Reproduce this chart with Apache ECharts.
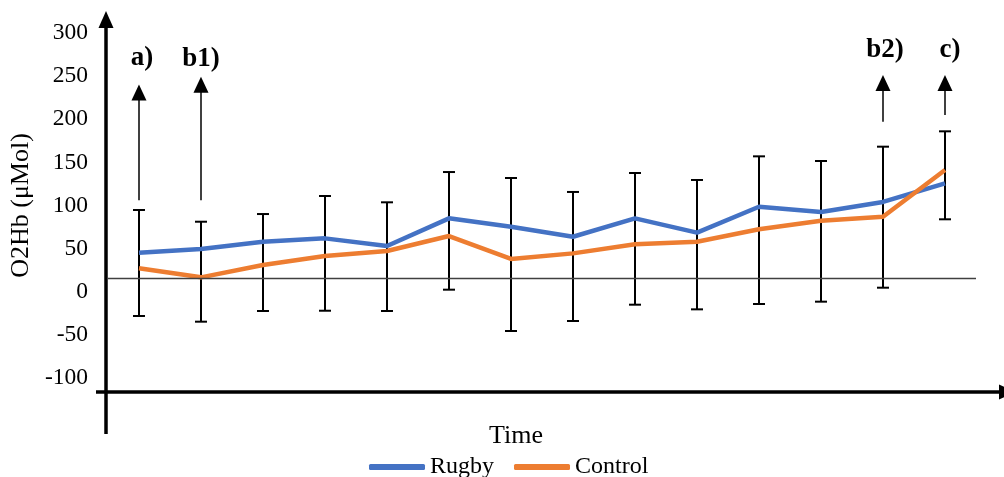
<!DOCTYPE html>
<html>
<head>
<meta charset="utf-8">
<script src="https://cdn.jsdelivr.net/npm/echarts@6/dist/echarts.min.js"></script>
<style>
  html, body { margin: 0; padding: 0; background: #fff; }
  #chart { width: 1004px; height: 477px; }
</style>
</head>
<body>
<div id="chart"></div>
<script>
// Time points along the horizontal axis (unlabelled)
const timePoints = ['1', '2', '3', '4', '5', '6', '7', '8', '9', '10', '11', '12', '13', '14'];

// Mean O2Hb per group (μMol)
const rugby   = [45.3, 49.6, 58.0, 61.9, 53.0, 85.1, 75.4, 63.8, 85.1, 68.5, 98.6, 92.5, 104.1, 125.7];
const control = [27.2, 16.7, 31.0, 41.4, 47.2, 64.6, 38.0, 44.5, 55.0, 58.0, 72.4, 82.4, 87.0, 141.2];

// Error bar extents at each time point
const errorHigh = [94.8, 81.2, 90.1, 111.0, 103.7, 138.8, 131.9, 115.7, 137.7, 129.6, 157.0, 151.6, 168.2, 186.0];
const errorLow  = [-28.1, -34.7, -22.3, -22.0, -22.3, 2.4, -45.5, -33.9, -15.0, -20.4, -14.2, -11.5, 4.7, 84.0];

// Value axis ticks
const yMin = -100;
const yMax = 300;
const yStep = 50;

// Reference line level
const baseline = 16;

// Phase markers: time index, arrow start and arrow end values
const markerLabels = ['a)', 'b1)', 'b2)', 'c)'];
const markerIndex  = [0, 1, 12, 13];
const markerFrom   = [106, 106, 197, 205];
const markerTo     = [231, 240, 242, 242];
const markerGap    = [21, 12, 19, 19];
const markerShift  = [6, 0, 4, 10];

const FONT = '"Liberation Serif", "Times New Roman", serif';

const chart = echarts.init(document.getElementById('chart'));

const errorData = timePoints.map((_, i) => [i, errorLow[i], errorHigh[i]]);

const markerLines = markerLabels.map((lab, k) => [
  {
    name: lab,
    coord: [markerIndex[k], markerFrom[k]],
    label: { distance: markerGap[k], padding: [0, 0, 0, markerShift[k]] }
  },
  { coord: [markerIndex[k], markerTo[k]] }
]);

chart.setOption({
  animation: false,
  backgroundColor: '#fff',
  grid: { left: 106, right: 28, top: 33, bottom: 99, containLabel: false },
  legend: {
    data: ['Rugby', 'Control'],
    left: 364,
    top: 450,
    icon: 'roundRect',
    itemWidth: 56,
    itemHeight: 6,
    itemGap: 20,
    textStyle: { fontFamily: FONT, fontSize: 24, color: '#000' }
  },
  xAxis: {
    type: 'category',
    data: timePoints,
    boundaryGap: true,
    axisLine: { show: false },
    axisTick: { show: false },
    axisLabel: { show: false },
    splitLine: { show: false }
  },
  yAxis: {
    type: 'value',
    min: yMin,
    max: yMax,
    interval: yStep,
    name: 'O2Hb (μMol)',
    nameLocation: 'middle',
    nameGap: 70,
    nameRotate: 90,
    nameTextStyle: { fontFamily: FONT, fontSize: 26, color: '#000' },
    axisLine: { show: false },
    axisTick: { show: false },
    splitLine: { show: false },
    axisLabel: { fontFamily: FONT, fontSize: 23.5, color: '#000', margin: 20 }
  },
  graphic: [
    // vertical axis with arrow head
    { type: 'line', shape: { x1: 106, y1: 434, x2: 106, y2: 26 }, style: { stroke: '#000', lineWidth: 3.5 }, z: 10 },
    { type: 'polygon', shape: { points: [[106, 11], [98.5, 28], [113.5, 28]] }, style: { fill: '#000' }, z: 10 },
    // horizontal axis with arrow head
    { type: 'line', shape: { x1: 96, y1: 392, x2: 1000, y2: 392 }, style: { stroke: '#000', lineWidth: 3.5 }, z: 10 },
    { type: 'polygon', shape: { points: [[1015, 392], [999, 384.5], [999, 399.5]] }, style: { fill: '#000' }, z: 10 },
    // horizontal axis title
    { type: 'text', style: { text: 'Time', x: 516, y: 436, textAlign: 'center', textVerticalAlign: 'middle', font: '26px ' + FONT, fill: '#000' }, z: 10 }
  ],
  series: [
    {
      name: 'Errors',
      type: 'custom',
      z: 1,
      clip: false,
      data: errorData,
      renderItem: function (params, api) {
        const i = api.value(0);
        const lo = api.coord([i, api.value(1)]);
        const hi = api.coord([i, api.value(2)]);
        const w = 6;
        const st = { stroke: '#000', lineWidth: 2 };
        return {
          type: 'group',
          children: [
            { type: 'line', shape: { x1: lo[0], y1: lo[1], x2: hi[0], y2: hi[1] }, style: st },
            { type: 'line', shape: { x1: lo[0] - w, y1: lo[1], x2: lo[0] + w, y2: lo[1] }, style: st },
            { type: 'line', shape: { x1: hi[0] - w, y1: hi[1], x2: hi[0] + w, y2: hi[1] }, style: st }
          ]
        };
      },
      markLine: {
        silent: true,
        symbol: ['none', 'triangle'],
        symbolSize: [15, 16],
        lineStyle: { color: '#000', width: 1.5, type: 'solid' },
        label: {
          show: true,
          position: 'end',
          formatter: p => p.name,
          fontFamily: FONT,
          fontSize: 27,
          fontWeight: 'bold',
          color: '#000'
        },
        data: markerLines
      }
    },
    {
      name: 'Rugby',
      type: 'line',
      z: 3,
      data: rugby,
      symbol: 'none',
      color: '#4472C4',
      lineStyle: { width: 4.5, color: '#4472C4' },
      markLine: {
        silent: true,
        symbol: ['none', 'none'],
        label: { show: false },
        lineStyle: { color: '#404040', width: 1.3, type: 'solid' },
        data: [{ yAxis: baseline }]
      }
    },
    {
      name: 'Control',
      type: 'line',
      z: 3,
      data: control,
      symbol: 'none',
      color: '#ED7D31',
      lineStyle: { width: 4.5, color: '#ED7D31' }
    }
  ]
});
</script>
</body>
</html>
